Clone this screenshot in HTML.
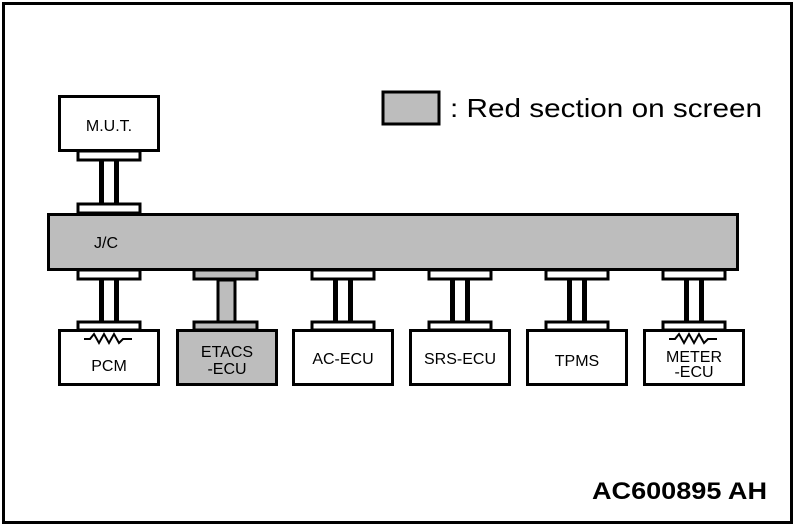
<!DOCTYPE html>
<html><head><style>html,body{margin:0;padding:0;background:#fff}svg{display:block}</style></head>
<body>
<svg width="796" height="529" viewBox="0 0 796 529" xmlns="http://www.w3.org/2000/svg" font-family="Liberation Sans, Arial, sans-serif">
<rect x="3.5" y="3.5" width="788" height="519" fill="#fff" stroke="#000" stroke-width="3"/>
<!-- legend -->
<rect x="383" y="92" width="56" height="32" fill="#bdbdbd" stroke="#000" stroke-width="3"/>
<text x="450" y="117" font-size="26" textLength="312" lengthAdjust="spacingAndGlyphs">: Red section on screen</text>
<!-- MUT -->
<rect x="59.5" y="96.5" width="99" height="54" fill="#fff" stroke="#000" stroke-width="3"/>
<text x="109" y="131" font-size="16" text-anchor="middle">M.U.T.</text>
<rect x="78" y="151" width="62" height="9" fill="#fff" stroke="#000" stroke-width="3"/>
<rect x="99" y="160" width="5" height="44" fill="#000"/>
<rect x="114" y="160" width="5" height="44" fill="#000"/>
<rect x="78" y="204" width="62" height="9" fill="#fff" stroke="#000" stroke-width="3"/>
<!-- bus -->
<rect x="48.5" y="214.5" width="689" height="55" fill="#bdbdbd" stroke="#000" stroke-width="3"/>
<text x="94" y="248" font-size="16">J/C</text>
<!-- PCM -->
<g>
<rect x="78" y="270" width="62" height="9" fill="#fff" stroke="#000" stroke-width="3"/>
<rect x="99" y="280" width="5" height="42" fill="#000"/>
<rect x="114" y="280" width="5" height="42" fill="#000"/>
<rect x="78" y="322" width="62" height="8" fill="#fff" stroke="#000" stroke-width="3"/>
<rect x="59.5" y="330.5" width="99" height="54" fill="#fff" stroke="#000" stroke-width="3"/>
<polyline points="84,339 90,339 94,334 99,343 104,334 109,343 114,334 119,343 123,339 132,339" fill="none" stroke="#000" stroke-width="2"/>
<text x="109" y="371" font-size="16" text-anchor="middle">PCM</text>
</g>
<!-- ETACS -->
<g>
<rect x="194" y="270" width="63" height="9" fill="#bdbdbd" stroke="#000" stroke-width="3"/>
<rect x="218" y="280" width="17" height="42" fill="#bdbdbd" stroke="#000" stroke-width="3"/>
<rect x="194" y="322" width="63" height="8" fill="#bdbdbd" stroke="#000" stroke-width="3"/>
<rect x="177.5" y="330.5" width="99" height="54" fill="#bdbdbd" stroke="#000" stroke-width="3"/>
<text x="227" y="357" font-size="16" text-anchor="middle">ETACS</text>
<text x="227" y="374" font-size="16" text-anchor="middle">-ECU</text>
</g>
<!-- AC-ECU -->
<g transform="translate(234,0)">
<rect x="78" y="270" width="62" height="9" fill="#fff" stroke="#000" stroke-width="3"/>
<rect x="99" y="280" width="5" height="42" fill="#000"/>
<rect x="114" y="280" width="5" height="42" fill="#000"/>
<rect x="78" y="322" width="62" height="8" fill="#fff" stroke="#000" stroke-width="3"/>
<rect x="59.5" y="330.5" width="99" height="54" fill="#fff" stroke="#000" stroke-width="3"/>
<text x="109" y="364" font-size="16" text-anchor="middle">AC-ECU</text>
</g>
<!-- SRS -->
<g transform="translate(351,0)">
<rect x="78" y="270" width="62" height="9" fill="#fff" stroke="#000" stroke-width="3"/>
<rect x="99" y="280" width="5" height="42" fill="#000"/>
<rect x="114" y="280" width="5" height="42" fill="#000"/>
<rect x="78" y="322" width="62" height="8" fill="#fff" stroke="#000" stroke-width="3"/>
<rect x="59.5" y="330.5" width="99" height="54" fill="#fff" stroke="#000" stroke-width="3"/>
<text x="109" y="364" font-size="16" text-anchor="middle">SRS-ECU</text>
</g>
<!-- TPMS -->
<g transform="translate(468,0)">
<rect x="78" y="270" width="62" height="9" fill="#fff" stroke="#000" stroke-width="3"/>
<rect x="99" y="280" width="5" height="42" fill="#000"/>
<rect x="114" y="280" width="5" height="42" fill="#000"/>
<rect x="78" y="322" width="62" height="8" fill="#fff" stroke="#000" stroke-width="3"/>
<rect x="59.5" y="330.5" width="99" height="54" fill="#fff" stroke="#000" stroke-width="3"/>
<text x="109" y="366" font-size="16" text-anchor="middle">TPMS</text>
</g>
<!-- METER -->
<g transform="translate(585,0)">
<rect x="78" y="270" width="62" height="9" fill="#fff" stroke="#000" stroke-width="3"/>
<rect x="99" y="280" width="5" height="42" fill="#000"/>
<rect x="114" y="280" width="5" height="42" fill="#000"/>
<rect x="78" y="322" width="62" height="8" fill="#fff" stroke="#000" stroke-width="3"/>
<rect x="59.5" y="330.5" width="99" height="54" fill="#fff" stroke="#000" stroke-width="3"/>
<polyline points="84,339 90,339 94,334 99,343 104,334 109,343 114,334 119,343 123,339 132,339" fill="none" stroke="#000" stroke-width="2"/>
<text x="109" y="362" font-size="16" text-anchor="middle">METER</text>
<text x="109" y="377" font-size="16" text-anchor="middle">-ECU</text>
</g>
<text x="592" y="499" font-size="24" font-weight="bold" textLength="175" lengthAdjust="spacingAndGlyphs">AC600895 AH</text>
</svg>
</body></html>
